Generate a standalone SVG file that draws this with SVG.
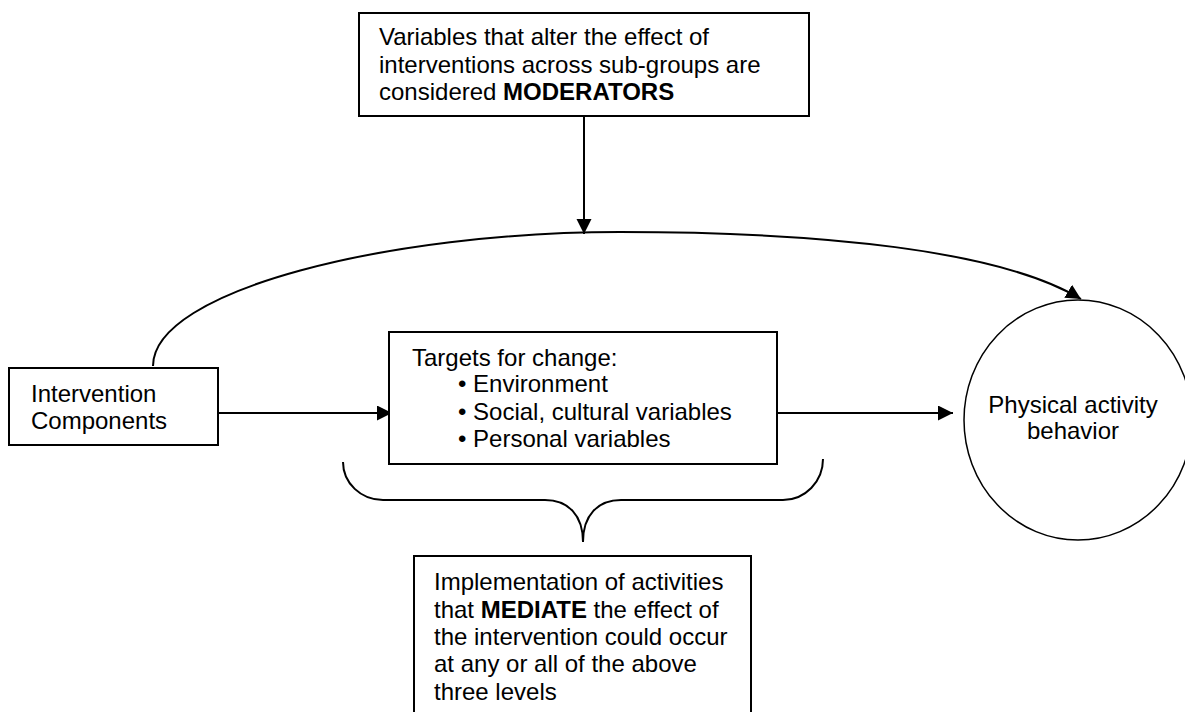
<svg xmlns="http://www.w3.org/2000/svg" width="1185" height="712" viewBox="0 0 1185 712">
<style>
  .box { fill: #ffffff; stroke: #000000; stroke-width: 2; }
  .t { font-family: "Liberation Sans", Arial, sans-serif; font-size: 24px; fill: #000000; }
  .b { font-weight: bold; }
  .con { fill: none; stroke: #000000; stroke-width: 2; }
</style>
<defs>
  <marker id="arr" markerUnits="userSpaceOnUse" markerWidth="16" markerHeight="16" refX="15" refY="7.5" orient="auto">
    <path d="M0,0 L15,7.5 L0,15 z" fill="#000000"/>
  </marker>
</defs>
<rect width="1185" height="712" fill="#ffffff"/>

<g id="connectors">
  <path class="con" d="M153,366 C153,290 390,232 620,232 C820,232 1000,250 1081,299" marker-end="url(#arr)"/>
  <line class="con" x1="584" y1="116" x2="584" y2="234" marker-end="url(#arr)"/>
  <line class="con" x1="218" y1="413" x2="392" y2="413" marker-end="url(#arr)"/>
  <line class="con" x1="777" y1="413" x2="953" y2="413" marker-end="url(#arr)"/>
  <path class="con" d="M343,462 A40,38 0 0 0 383,500 L545,500 C568,500 583,515 583,542 C583,515 598,500 621,500 L783,500 A40,41 0 0 0 823,459"/>
</g>

<g id="moderators">
  <rect class="box" x="359" y="13" width="450" height="103"/>
  <text class="t" x="379" y="45">Variables that alter the effect of</text>
  <text class="t" x="379" y="73">interventions across sub-groups are</text>
  <text class="t" x="379" y="100">considered <tspan class="b">MODERATORS</tspan></text>
</g>

<g id="intervention">
  <rect class="box" x="9" y="368" width="209" height="77"/>
  <text class="t" x="31" y="402">Intervention</text>
  <text class="t" x="31" y="429">Components</text>
</g>

<g id="targets">
  <rect class="box" x="389" y="332" width="388" height="132"/>
  <text class="t" x="412" y="366">Targets for change:</text>
  <text class="t" x="458" y="392">• Environment</text>
  <text class="t" x="458" y="420">• Social, cultural variables</text>
  <text class="t" x="458" y="447">• Personal variables</text>
</g>

<g id="behavior">
  <ellipse cx="1078" cy="420" rx="114" ry="120" fill="#ffffff" stroke="#000000" stroke-width="1.5"/>
  <text class="t" x="1073" y="413" text-anchor="middle">Physical activity</text>
  <text class="t" x="1073" y="439" text-anchor="middle">behavior</text>
</g>

<g id="mediators">
  <rect class="box" x="414" y="556" width="337" height="170"/>
  <text class="t" x="434" y="590">Implementation of activities</text>
  <text class="t" x="434" y="618">that <tspan class="b">MEDIATE</tspan> the effect of</text>
  <text class="t" x="434" y="645">the intervention could occur</text>
  <text class="t" x="434" y="672">at any or all of the above</text>
  <text class="t" x="434" y="700">three levels</text>
</g>
</svg>
